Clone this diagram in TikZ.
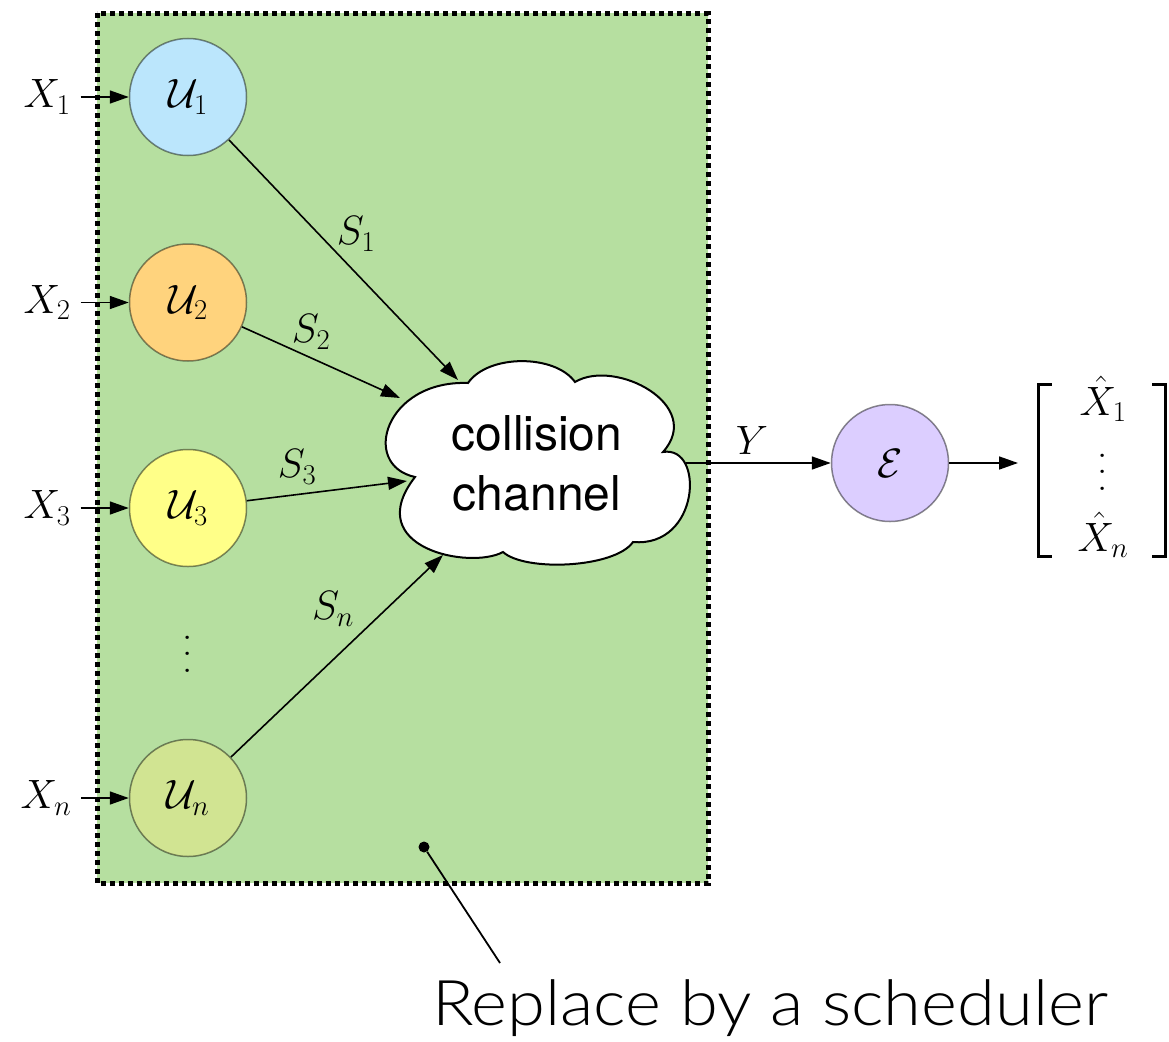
\RequirePackage{fix-cm}
\documentclass[tikz,border=0pt]{standalone}
\usepackage{fontspec}
\setsansfont{TeX Gyre Heros}
\newfontfamily\lightsans{Lato Light}[FakeStretch=1.09]
\usetikzlibrary{arrows.meta}

% colours
\definecolor{bggreen}{RGB}{182,223,160}
\definecolor{cuone}{RGB}{187,230,252}
\definecolor{cutwo}{RGB}{255,211,125}
\definecolor{cuthree}{RGB}{255,255,136}
\definecolor{cun}{RGB}{209,228,146}
\definecolor{cenc}{RGB}{220,206,255}

% three stacked dots, spaced for a 41pt math size
\newcommand{\tallvdots}{\vbox{\baselineskip=16.5pt\lineskiplimit=0pt\lineskip=0pt\hbox{.}\hbox{.}\hbox{.}}}

\begin{document}
\begin{tikzpicture}[x=1pt,y=-1pt,
  mfont/.style={font=\fontsize{41}{49}\selectfont},
  user/.style={circle, draw=black, draw opacity=0.45, line width=1.5pt,
               minimum size=117pt, inner sep=0pt, mfont},
  tag/.style={inner sep=0pt, mfont},
  xin/.style={inner xsep=10pt, inner ysep=0pt, mfont},
  arr/.style={line width=1.6pt, -{Triangle[length=19pt,width=13pt]}},
  cloudline/.style={draw=black, fill=white, line width=2pt},
  bracketline/.style={line width=2.8pt},
]
\useasboundingbox (0,0) rectangle (1169,1041);

% the shared-medium region
\path[fill=bggreen] (97,13.5) rectangle (708,883);
\draw[line width=5pt, dash pattern=on 5pt off 4pt] (97,13.5) rectangle (708,883);

% collision channel cloud
\draw[cloudline] (468,383)
  .. controls (488,354) and (555,354) .. (575,382)
  .. controls (615,358) and (705,405) .. (663,452)
  .. controls (705,445) and (700,548) .. (633,542)
  .. controls (615,568) and (525,572) .. (503,552)
  .. controls (470,570) and (360,548) .. (415,477)
  .. controls (360,465) and (385,380) .. (468,383) -- cycle;
\node[inner sep=0pt, align=center, font=\sffamily\fontsize{48}{60}\selectfont]
  (chan) at (537,463) {collision\\channel};

% arrow end points on the cloud outline
\coordinate (t1) at (458,380);
\coordinate (t2) at (400,398);
\coordinate (t3) at (407,481);
\coordinate (tn) at (443,555);
\coordinate (cy) at (686,463);

% users
\node[user, fill=cuone]   (u1) at (188,97)  {$\mathcal{U}_1$};
\node[user, fill=cutwo]   (u2) at (188,302.5) {$\mathcal{U}_2$};
\node[user, fill=cuthree] (u3) at (188,508) {$\mathcal{U}_3$};
\node[tag] (udots) at (188,654) {\tallvdots};
\node[user, fill=cun]     (un) at (188,798) {$\mathcal{U}_n$};

% sources
\node[xin] (x1) at (47,97)    {$X_1$};
\node[xin] (x2) at (47,302.5) {$X_2$};
\node[xin] (x3) at (47,508)   {$X_3$};
\node[xin] (xn) at (46,798)   {$X_n$};
\draw[arr] (x1) -- (u1);
\draw[arr] (x2) -- (u2);
\draw[arr] (x3) -- (u3);
\draw[arr] (xn) -- (un);

% transmissions into the channel
\draw[arr] (u1) -- (t1);
\draw[arr] (u2) -- (t2);
\draw[arr] (u3) -- (t3);
\draw[arr] (un) -- (tn);
\node[tag] (s1) at (356,234) {$S_1$};
\node[tag] (s2) at (311,332) {$S_2$};
\node[tag] (s3) at (297,467) {$S_3$};
\node[tag] (sn) at (333,609) {$S_n$};

% decoder
\node[user, fill=cenc] (enc) at (890,463) {$\mathcal{E}$};
\draw[arr] (cy) -- (enc);
\node[tag] (ylab) at (752,440) {$Y$};

% estimates
\node[minimum width=126pt, minimum height=171pt, inner sep=0pt] (vec) at (1102,470.5) {};
\coordinate (vt) at (1018,463);
\draw[arr] (enc) -- (vt);
\node[tag] (xh1) at (1103,399) {$\hat{X}_1$};
\node[tag] (vdots) at (1103,472) {\tallvdots};
\node[tag] (xhn) at (1103,535) {$\hat{X}_n$};
\draw[bracketline] ([xshift=13pt]vec.north west) -- (vec.north west)
  -- (vec.south west) -- ([xshift=13pt]vec.south west);
\draw[bracketline] ([xshift=-13pt]vec.north east) -- (vec.north east)
  -- (vec.south east) -- ([xshift=-13pt]vec.south east);

% annotation
\node[circle, fill=black, inner sep=0pt, minimum size=11pt] (pin) at (424,847) {};
\node[anchor=base west, inner sep=0pt, font=\lightsans\fontsize{63}{70}\selectfont]
  (sched) at (432,1025) {Replace by a scheduler};
\coordinate (pinend) at (500,963);
\draw[line width=1.8pt] (pin) -- (pinend);
\end{tikzpicture}
\end{document}
